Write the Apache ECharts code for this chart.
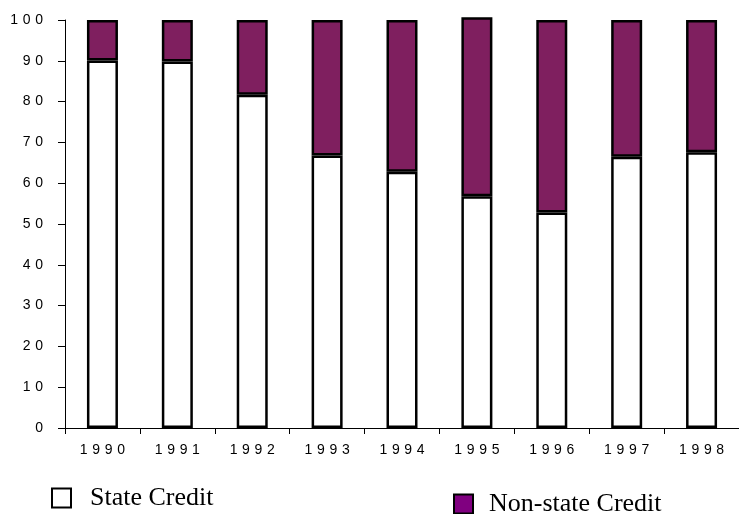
<!DOCTYPE html>
<html>
<head>
<meta charset="utf-8">
<script src="https://cdn.jsdelivr.net/npm/echarts@6/dist/echarts.min.js"></script>
<style>html,body{margin:0;padding:0;background:#fff}#c{width:739px;height:514px}</style>
</head>
<body>
<div id="c"></div>
<script>
var years = ['1990','1991','1992','1993','1994','1995','1996','1997','1998'];
var stateCredit = [90.1, 89.8, 81.7, 66.8, 62.8, 56.8, 52.8, 66.5, 67.6];
var nonStateCredit = [9.9, 10.2, 18.3, 33.2, 37.2, 43.9, 47.2, 33.5, 32.4];
var yTicks = [0, 10, 20, 30, 40, 50, 60, 70, 80, 90, 100];
var seriesNames = ['State Credit', 'Non-state Credit'];

function spaced(s) { return String(s).split('').join('\u2004'); }

var chart = echarts.init(document.getElementById('c'), null, {renderer: 'canvas'});
chart.setOption({
  animation: false,
  backgroundColor: '#ffffff',
  grid: {left: 65, top: 20, bottom: 86, width: 684, containLabel: false},
  xAxis: {
    type: 'category',
    data: years,
    boundaryGap: true,
    axisLine: {lineStyle: {color: '#000', width: 1}},
    axisTick: {show: true, length: 6, lineStyle: {color: '#000'}},
    axisLabel: {color: '#000', fontFamily: 'Liberation Sans', fontSize: 14, margin: 15,
      formatter: function (v) { return spaced(v); }}
  },
  yAxis: {
    type: 'value',
    min: yTicks[0], max: yTicks[yTicks.length - 1], interval: 10,
    splitLine: {show: false},
    axisLine: {show: true, lineStyle: {color: '#000', width: 1}},
    axisTick: {show: true, length: 7, lineStyle: {color: '#000'}},
    axisLabel: {color: '#000', fontFamily: 'Liberation Sans', fontSize: 14, margin: 22,
      formatter: function (v) { return spaced(v); }}
  },
  legend: [
    {
      data: [seriesNames[0]],
      left: 51, top: 485, padding: 0,
      icon: 'rect', itemWidth: 19, itemHeight: 19,
      textStyle: {fontFamily: 'Liberation Serif', fontSize: 26, color: '#000', lineHeight: 19, padding: [0, 0, 0, 14]}
    },
    {
      data: [{name: seriesNames[1], itemStyle: {color: '#800080'}}],
      left: 453, top: 491, padding: 0,
      icon: 'rect', itemWidth: 19, itemHeight: 19,
      textStyle: {fontFamily: 'Liberation Serif', fontSize: 26, color: '#000', lineHeight: 19, padding: [0, 0, 0, 11]}
    }
  ],
  series: [
    {
      name: seriesNames[0], type: 'bar', stack: 'credit', data: stateCredit,
      barWidth: 31, clip: false,
      itemStyle: {color: '#ffffff', borderColor: '#000', borderWidth: 2.5}
    },
    {
      name: seriesNames[1], type: 'bar', stack: 'credit', data: nonStateCredit,
      barWidth: 31, clip: false,
      itemStyle: {color: '#7f1f5f', borderColor: '#000', borderWidth: 2.5}
    }
  ]
});
</script>
</body>
</html>
